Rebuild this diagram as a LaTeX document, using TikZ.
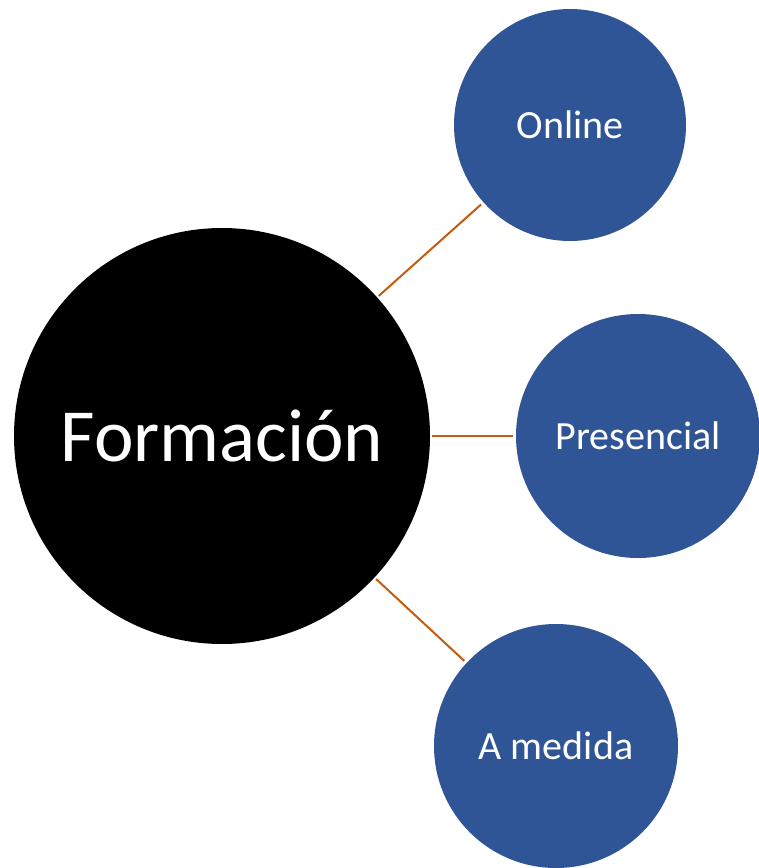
\documentclass[tikz,border=0pt]{standalone}
\usepackage{fontspec}
\setmainfont{Carlito}
\definecolor{bubble}{HTML}{2F5597}
\definecolor{link}{HTML}{C55A11}
\begin{document}
\begin{tikzpicture}[x=1pt,y=-1pt,
  hub/.style={circle,fill=black,minimum size=416pt,inner sep=0pt,text=white,font=\fontsize{75}{80}\selectfont},
  leaf/.style={circle,fill=bubble,inner sep=0pt,text=white,font=\fontsize{40}{44}\selectfont},
  conn/.style={draw=link,line width=2pt,shorten <=2pt,shorten >=3pt}]
\useasboundingbox (0,0) rectangle (759,868);
\node[hub] (f) at (222,436) {Formación};
\node[leaf,minimum size=232pt] (o) at (570,125) {Online};
\node[leaf,minimum size=244pt] (p) at (638,436) {Presencial};
\node[leaf,minimum size=244pt] (m) at (556,746) {A medida};
\draw[conn] (f) -- (o);
\draw[conn] (f.east) -- (p.west);
\draw[conn] (f) -- (m);
\end{tikzpicture}
\end{document}
